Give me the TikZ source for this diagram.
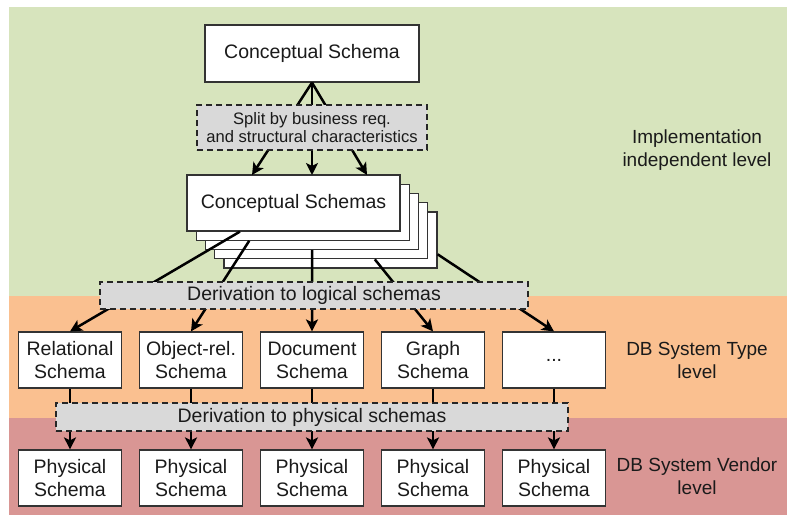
\documentclass[tikz,border=0pt]{standalone}
\usepackage{fontspec}
\setmainfont{Liberation Sans}
\usetikzlibrary{calc, arrows.meta}
\definecolor{levelGreen}{HTML}{D7E4BD}
\definecolor{levelOrange}{HTML}{FAC090}
\definecolor{levelRed}{HTML}{D99694}
\definecolor{stepGray}{HTML}{D9D9D9}
\definecolor{ink}{HTML}{1A1A1A}
\tikzstyle{schema}=[draw=black!80, fill=white, line width=1.2pt, minimum width=103pt, minimum height=56pt, inner sep=0pt, align=center, text=ink, font=\fontsize{19.5}{23}\selectfont]
\tikzstyle{derivation}=[draw=black!85, fill=stepGray, line width=1.3pt, dash pattern=on 6pt off 4pt, inner sep=0pt, align=center, text=ink, font=\fontsize{19.5}{23}\selectfont]
\tikzstyle{level}=[align=center, text=ink, font=\fontsize{19}{23}\selectfont]
\tikzstyle{arrow}=[-{Stealth[length=12pt, width=12pt, inset=3pt]}, line width=2.5pt]
\tikzstyle{line}=[line width=2.5pt]

\begin{document}
\begin{tikzpicture}[x=1pt, y=-1pt]
      \useasboundingbox (0,0) rectangle (787,516);

      % levels
      \fill[levelGreen] (9,7) rectangle (787,296);
      \fill[levelOrange] (9,296) rectangle (787,418);
      \fill[levelRed] (9,418) rectangle (787,515);
      \node[level] (implLevel) at (697,150) {Implementation\\independent level};
      \node[level] (typeLevel) at (697,360.5) {DB System Type\\level};
      \node[level] (vendorLevel) at (697,476.5) {DB System Vendor\\level};

      \node[schema, minimum width=214pt, minimum height=57pt] (conceptualSchema) at (312,53.5) {Conceptual Schema};

      % stack of conceptual schemas, back to front
      \foreach \i in {4,3,2,1}{
        \node[schema, minimum width=213pt] (layer\i) at (293.5+9.25*\i, 203+9.25*\i) {};
      }
      \node[schema, minimum width=213pt] (layer0) at (293.5,203) {Conceptual Schemas};

      \node[schema] (relSchema) at (70,360) {Relational\\Schema};
      \node[schema] (objSchema) at (191,360) {Object-rel.\\Schema};
      \node[schema] (docSchema) at (312,360) {Document\\Schema};
      \node[schema] (graphSchema) at (433,360) {Graph\\Schema};
      \node[schema] (moreSchema) at (554,360) {...};

      \foreach \n in {1,...,5}{
        \node[schema] (phys\n) at (70+121*\n-121,478) {Physical\\Schema};
      }

      \coordinate (into1) at (252,175);
      \coordinate (into2) at (312,175);
      \coordinate (into3) at (367,175);
      \coordinate (from1) at ($(layer0.south west)!0.25!(layer0.south east)$);
      \coordinate (from2) at ($(layer1.south west)!0.25!(layer1.south east)$);
      \coordinate (from3) at ($(layer2.south west)!0.5!(layer2.south east)$);
      \coordinate (from4) at ($(layer3.south west)!0.75!(layer3.south east)$);
      \coordinate (from5) at ($(layer4.south east)!0.25!(layer4.north east)$);

      \foreach \n in {into1, into2, into3}{
        \draw[arrow] (conceptualSchema.south) -- (\n);
      }

      \draw[arrow] (from1) -- (relSchema.north);
      \draw[arrow] (from2) -- (objSchema.north);
      \draw[arrow] (from3) -- (docSchema.north);
      \draw[arrow] (from4) -- (graphSchema.north);
      \draw[arrow] (from5) -- (moreSchema.north);

      \foreach \n/\m in {relSchema/phys1, objSchema/phys2, docSchema/phys3, graphSchema/phys4, moreSchema/phys5}{
        \draw[arrow] (\n) -- (\m);
      }

      \node[derivation, minimum width=230pt, minimum height=45pt, font=\fontsize{16.6}{18.5}\selectfont] (splitStep) at (312,127.5) {Split by business req.\\and structural characteristics};
      \node[derivation, minimum width=428pt, minimum height=27pt] (logicalStep) at (314,295.5) {Derivation to logical schemas};
      \node[derivation, minimum width=512pt, minimum height=28pt] (physicalStep) at (312,417) {Derivation to physical schemas};
\end{tikzpicture}
\end{document}
